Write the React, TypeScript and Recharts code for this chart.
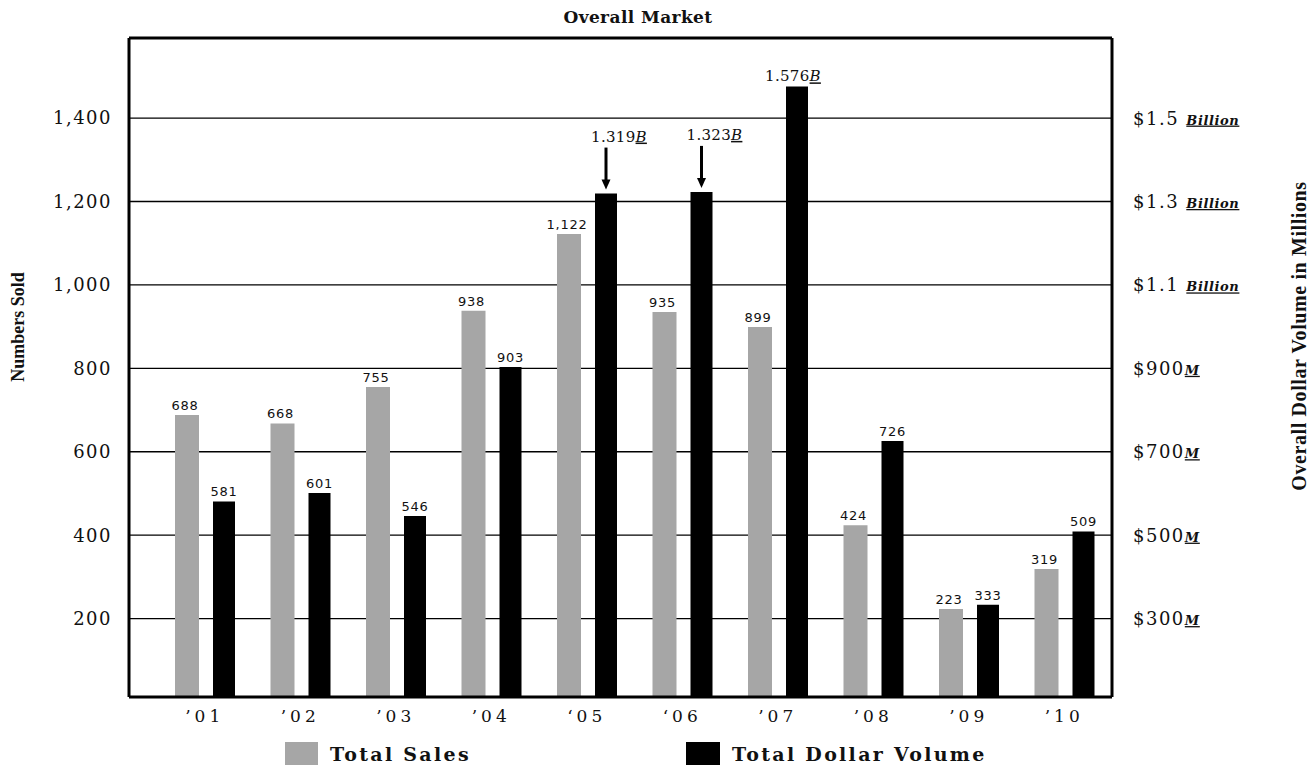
import React from 'react';
import { BarChart, Bar, XAxis, YAxis, CartesianGrid, ReferenceLine, LabelList } from 'recharts';

const years = ['’01', '’02', '’03', '’04', '‘05', '‘06', '’07', '’08', '’09', '’10'];
const totalSales = [688, 668, 755, 938, 1122, 935, 899, 424, 223, 319];
const dollarVolume = [581, 601, 546, 903, 1319, 1323, 1576, 726, 333, 509];
const leftTicks = [200, 400, 600, 800, 1000, 1200, 1400];
const rightTicks = [300, 500, 700, 900, 1100, 1300, 1500];
const arrowYears = ['‘05', '‘06'];

const data = years.map((year, i) => ({ year, sales: totalSales[i], dollars: dollarVolume[i] }));

const SERIF = '"DejaVu Serif", "Liberation Serif", serif';
const SANS = '"DejaVu Sans", Verdana, sans-serif';
const TIMES = '"Liberation Serif", "Times New Roman", serif';
const GRAY = '#a6a6a6';

const RightTick = (props: any) => {
  const { x, y, payload } = props;
  const v = payload.value as number;
  const big = v >= 1000;
  return (
    <text x={x} y={y} dy="0.36em" fontFamily={SERIF} fontSize={18} fill="#111" letterSpacing={1.5}>
      {big ? `$${(v / 1000).toFixed(1)} ` : `$${v}`}
      <tspan
        fontSize={13}
        fontStyle="italic"
        fontWeight="bold"
        letterSpacing={0.6}
        style={{ textDecoration: 'underline' }}
      >
        {big ? 'Billion' : 'M'}
      </tspan>
    </text>
  );
};

const SalesLabel = (props: any) => {
  const { x, y, width, value } = props;
  return (
    <text
      x={x + width / 2 - 2}
      y={y - 5}
      textAnchor="middle"
      fontFamily={SANS}
      fontSize={13}
      letterSpacing={0.8}
      fill="#111"
    >
      {Number(value).toLocaleString('en-US')}
    </text>
  );
};

const DollarLabel = (props: any) => {
  const { x, y, width, value, index } = props;
  const cx = x + width / 2;
  const v = Number(value);
  if (v >= 1000) {
    const txt = (v / 1000).toFixed(3);
    const label = (
      <>
        {txt}
        <tspan fontStyle="italic" style={{ textDecoration: 'underline' }}>B</tspan>
      </>
    );
    if (arrowYears.includes(years[index])) {
      return (
        <g>
          <text x={cx + 13} y={y - 52} textAnchor="middle" fontFamily={SERIF} fontSize={15} letterSpacing={0.3} fill="#111">
            {label}
          </text>
          <line x1={cx} x2={cx} y1={y - 46} y2={y - 12} stroke="#000" strokeWidth={3} />
          <path d={`M${cx - 4.5},${y - 14} L${cx + 4.5},${y - 14} L${cx},${y - 4} Z`} fill="#000" />
        </g>
      );
    }
    return (
      <text x={cx - 4} y={y - 5} textAnchor="middle" fontFamily={SERIF} fontSize={15} letterSpacing={0.3} fill="#111">
        {label}
      </text>
    );
  }
  return (
    <text x={cx} y={y - 5} textAnchor="middle" fontFamily={SANS} fontSize={13} letterSpacing={0.8} fill="#111">
      {v.toLocaleString('en-US')}
    </text>
  );
};

export default function App() {
  return (
    <div style={{ position: 'absolute', left: 0, top: 0, width: 1314, height: 769, background: '#fff' }}>
      <BarChart
        width={1314}
        height={769}
        data={data}
        margin={{ top: 38, right: 0, bottom: 42, left: 0 }}
        barGap={14}
      >
        <CartesianGrid yAxisId="left" vertical={false} stroke="#000" strokeWidth={1.4} />
        <XAxis
          dataKey="year"
          padding={{ left: 28, right: 0 }}
          axisLine={{ stroke: '#000', strokeWidth: 3 }}
          tickLine={false}
          tickSize={0}
          tickMargin={13}
          height={30}
          interval={0}
          tick={{ fontFamily: SERIF, fontSize: 17, fill: '#111', letterSpacing: 4 }}
        />
        <YAxis
          yAxisId="left"
          orientation="left"
          width={129}
          domain={[12, 1592]}
          ticks={leftTicks}
          allowDataOverflow
          axisLine={{ stroke: '#000', strokeWidth: 3 }}
          tickLine={false}
          tickSize={0}
          tickMargin={17}
          tickFormatter={(v: number) => v.toLocaleString('en-US')}
          tick={{ fontFamily: SERIF, fontSize: 18, fill: '#111', letterSpacing: 1.5 }}
        />
        <YAxis
          yAxisId="right"
          orientation="right"
          width={202}
          domain={[112, 1692]}
          ticks={rightTicks}
          allowDataOverflow
          axisLine={{ stroke: '#000', strokeWidth: 3 }}
          tickLine={false}
          tickSize={0}
          tickMargin={21}
          tick={<RightTick />}
        />
        <ReferenceLine yAxisId="left" y={1592} stroke="#000" strokeWidth={3} />
        <Bar yAxisId="left" dataKey="sales" fill={GRAY} barSize={24} isAnimationActive={false}>
          <LabelList dataKey="sales" position="top" content={SalesLabel} />
        </Bar>
        <Bar yAxisId="right" dataKey="dollars" fill="#000" barSize={22} isAnimationActive={false}>
          <LabelList dataKey="dollars" position="top" content={DollarLabel} />
        </Bar>
      </BarChart>

      <div
        style={{
          position: 'absolute',
          left: 638,
          top: 17,
          transform: 'translate(-50%, -50%)',
          fontFamily: SERIF,
          fontWeight: 'bold',
          fontSize: 17,
          letterSpacing: 0.4,
          whiteSpace: 'nowrap',
          color: '#111',
        }}
      >
        Overall Market
      </div>

      <div
        style={{
          position: 'absolute',
          left: 18,
          top: 327,
          transform: 'translate(-50%, -50%) rotate(-90deg)',
          fontFamily: TIMES,
          fontWeight: 'bold',
          fontSize: 18,
          whiteSpace: 'nowrap',
          color: '#111',
        }}
      >
        Numbers Sold
      </div>

      <div
        style={{
          position: 'absolute',
          left: 1299,
          top: 336,
          transform: 'translate(-50%, -50%) rotate(-90deg)',
          fontFamily: TIMES,
          fontWeight: 'bold',
          fontSize: 20,
          letterSpacing: 0.6,
          whiteSpace: 'nowrap',
          color: '#111',
        }}
      >
        Overall Dollar Volume in Millions
      </div>

      <div style={{ position: 'absolute', left: 285, top: 742, width: 33, height: 23, background: GRAY }} />
      <div
        style={{
          position: 'absolute',
          left: 330,
          top: 743,
          lineHeight: '22px',
          fontFamily: SERIF,
          fontWeight: 'bold',
          fontSize: 19,
          letterSpacing: 2.3,
          whiteSpace: 'nowrap',
          color: '#111',
        }}
      >
        Total Sales
      </div>
      <div style={{ position: 'absolute', left: 686, top: 742, width: 34, height: 23, background: '#000' }} />
      <div
        style={{
          position: 'absolute',
          left: 732,
          top: 743,
          lineHeight: '22px',
          fontFamily: SERIF,
          fontWeight: 'bold',
          fontSize: 19,
          letterSpacing: 2.3,
          whiteSpace: 'nowrap',
          color: '#111',
        }}
      >
        Total Dollar Volume
      </div>
    </div>
  );
}
